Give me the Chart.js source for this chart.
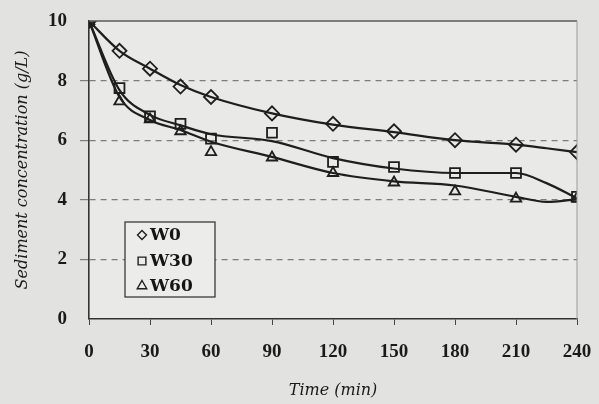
<!DOCTYPE html>
<html>
<head>
<meta charset="utf-8">
<script src="https://cdn.jsdelivr.net/npm/chart.js@4.4.1/dist/chart.umd.min.js"></script>
<style>
  html, body { margin: 0; padding: 0; background: #e2e3e0; }
  canvas { display: block; }
</style>
</head>
<body>
<canvas id="sediment" width="599" height="404"></canvas>
<script>
// measured points
const times = [0, 15, 30, 45, 60, 90, 120, 150, 180, 210, 240];
const w0  = [10, 9.0, 8.4, 7.8, 7.45, 6.9, 6.55, 6.3, 6.0, 5.85, 5.6];
const w30 = [10, 7.75, 6.8, 6.55, 6.05, 6.25, 5.27, 5.1, 4.9, 4.9, 4.1];
const w60 = [10, 7.3, 6.7, 6.3, 5.6, 5.42, 4.9, 4.58, 4.28, 4.04, 4.05];

// trend curves
const fitTimes = [0, 15, 30, 45, 60, 90, 120, 150, 180, 210, 225, 240];
const w0Fit  = [10, 9.0, 8.4, 7.85, 7.45, 6.9, 6.52, 6.27, 6.0, 5.85, 5.73, 5.6];
const w30Fit = [10, 7.68, 6.85, 6.5, 6.2, 5.97, 5.4, 5.05, 4.9, 4.9, 4.56, 4.05];
const w60Fit = [10, 7.45, 6.68, 6.34, 5.95, 5.44, 4.9, 4.62, 4.48, 4.1, 3.93, 4.02];

const xTicks = [0, 30, 60, 90, 120, 150, 180, 210, 240];
const seriesNames = ["W0", "W30", "W60"];
const markers = ["rectRot", "rect", "triangle"];

const ink = "#1e1e1e";

function pts(xs, ys) {
    return xs.map((x, i) => ({ x: x, y: ys[i] }));
}

function pointSet(label, data, style) {
    return {
        label: label,
        data: pts(times, data),
        showLine: false,
        pointStyle: style,
        pointRadius: style === "triangle" ? 6 : 7,
        pointBorderWidth: 1.8,
        pointBorderColor: ink,
        pointBackgroundColor: "rgba(0,0,0,0)",
        order: 1
    };
}

function fitSet(data) {
    return {
        label: "fit",
        data: pts(fitTimes, data),
        showLine: true,
        borderColor: ink,
        borderWidth: 2.2,
        pointRadius: 0,
        cubicInterpolationMode: "monotone",
        fill: false,
        order: 2
    };
}

const plotBg = {
    id: "plotBg",
    beforeDraw(chart) {
        const { ctx, chartArea: a } = chart;
        ctx.save();
        ctx.fillStyle = "#e9eae7";
        ctx.fillRect(a.left, a.top, a.right - a.left, a.bottom - a.top);
        ctx.restore();
    },
    afterDatasetsDraw(chart) {
        const { ctx, chartArea: a } = chart;
        ctx.save();
        // top and right frame
        ctx.strokeStyle = "#5a5a5a";
        ctx.lineWidth = 1.5;
        ctx.beginPath();
        ctx.moveTo(a.left, a.top);
        ctx.lineTo(a.right, a.top);
        ctx.stroke();
        ctx.strokeStyle = "#9a9a9a";
        ctx.lineWidth = 1;
        ctx.beginPath();
        ctx.moveTo(a.right, a.top);
        ctx.lineTo(a.right, a.bottom);
        ctx.stroke();

        // legend box
        const bx = a.left + 36, by = a.top + 201, bw = 90, bh = 75;
        ctx.fillStyle = "#ecedea";
        ctx.fillRect(bx, by, bw, bh);
        ctx.strokeStyle = "#3a3a3a";
        ctx.lineWidth = 1.3;
        ctx.strokeRect(bx, by, bw, bh);
        ctx.font = "bold 17px 'DejaVu Serif'";
        ctx.textBaseline = "middle";
        ctx.textAlign = "left";
        const rows = [13, 39, 64];
        seriesNames.forEach((name, i) => {
            const y = by + rows[i];
            ctx.strokeStyle = ink;
            ctx.fillStyle = "rgba(0,0,0,0)";
            ctx.lineWidth = 1.4;
            Chart.helpers.drawPoint(ctx, {
                pointStyle: markers[i],
                radius: i === 0 ? 4.5 : 5.5,
                borderWidth: 1.4
            }, bx + 17, y);
            ctx.fillStyle = "#151515";
            ctx.fillText(name, bx + 25, y + 1);
        });
        ctx.restore();
    }
};

const ctx = document.getElementById("sediment").getContext("2d");
const chart = new Chart(ctx, {
    type: "scatter",
    data: {
        datasets: [
            pointSet(seriesNames[0], w0, markers[0]),
            pointSet(seriesNames[1], w30, markers[1]),
            pointSet(seriesNames[2], w60, markers[2]),
            fitSet(w0Fit),
            fitSet(w30Fit),
            fitSet(w60Fit)
        ]
    },
    options: {
        responsive: false,
        animation: false,
        layout: { padding: { top: 21, right: 22, left: 0, bottom: 0 } },
        plugins: {
            legend: { display: false },
            tooltip: { enabled: false }
        },
        scales: {
            x: {
                type: "linear",
                min: 0,
                max: 240,
                afterBuildTicks(scale) {
                    scale.ticks = xTicks.map(v => ({ value: v }));
                },
                afterFit(scale) {
                    scale.height = 85;
                    scale.paddingLeft = 0;
                    scale.paddingRight = 0;
                },
                grid: {
                    drawOnChartArea: false,
                    tickLength: 6,
                    color: "#444"
                },
                border: { color: "#333", width: 1.6 },
                ticks: {
                    padding: 16,
                    color: "#1a1a1a",
                    font: { family: "'Liberation Serif'", size: 19, weight: "bold" }
                },
                title: {
                    display: true,
                    text: "Time (min)",
                    color: "#1a1a1a",
                    padding: { top: 0, bottom: 4 },
                    font: { family: "'DejaVu Serif'", size: 16, style: "italic" }
                }
            },
            y: {
                min: 0,
                max: 10,
                ticks: {
                    stepSize: 2,
                    padding: 13,
                    color: "#1a1a1a",
                    font: { family: "'Liberation Serif'", size: 19, weight: "bold" }
                },
                afterFit(scale) {
                    scale.width = 89;
                    scale.paddingTop = 0;
                    scale.paddingBottom = 0;
                },
                grid: {
                    tickLength: 9,
                    lineWidth: 1.2,
                    color: c => (c.tick && (c.tick.value === 0 || c.tick.value === 10)) ? "rgba(0,0,0,0)" : "#7d7d7d"
                },
                border: { color: "#333", width: 1.6, dash: [6, 5] },
                title: {
                    display: true,
                    text: "Sediment concentration (g/L)",
                    color: "#1a1a1a",
                    padding: { top: 13, bottom: 0 },
                    font: { family: "'DejaVu Serif'", size: 16, style: "italic" }
                }
            }
        }
    },
    plugins: [plotBg]
});
</script>
</body>
</html>
